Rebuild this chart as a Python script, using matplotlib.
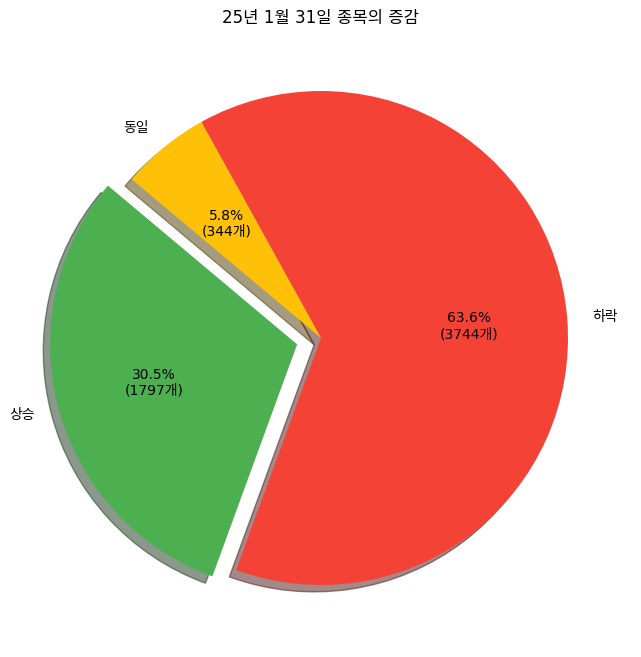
import matplotlib
matplotlib.use("Agg")
import matplotlib.pyplot as plt

plt.rcParams['font.family'] = ['DejaVu Sans', 'Noto Sans CJK KR']

labels = ['상승', '하락', '동일']
counts = [1797, 3744, 344]
colors = ['#4CAF50', '#F44336', '#FFC107']
explode = [0.1, 0, 0]
title = '25년 1월 31일 종목의 증감'

total = sum(counts)

def fmt(pct):
    n = int(round(pct * total / 100.0))
    return f'{pct:.1f}%\n({n}개)'

W, H = 641, 657
cx, cy, r = 321, 338, 247
half = 1.25 * r
fig = plt.figure(figsize=(W / 100, H / 100), dpi=100)
ax = fig.add_axes([(cx - half) / W, (H - cy - half) / H, 2 * half / W, 2 * half / H])
ax.pie(counts, labels=labels, colors=colors, explode=explode, autopct=fmt,
       shadow=True, startangle=140, textprops={'fontsize': 10})
ax.set_xlim(-1.25, 1.25)
ax.set_ylim(-1.25, 1.25)
ax.set_aspect('equal')
fig.text(0.5, 1 - 18 / H, title, ha='center', va='center', fontsize=12)
fig.savefig('out.png', dpi=100)
